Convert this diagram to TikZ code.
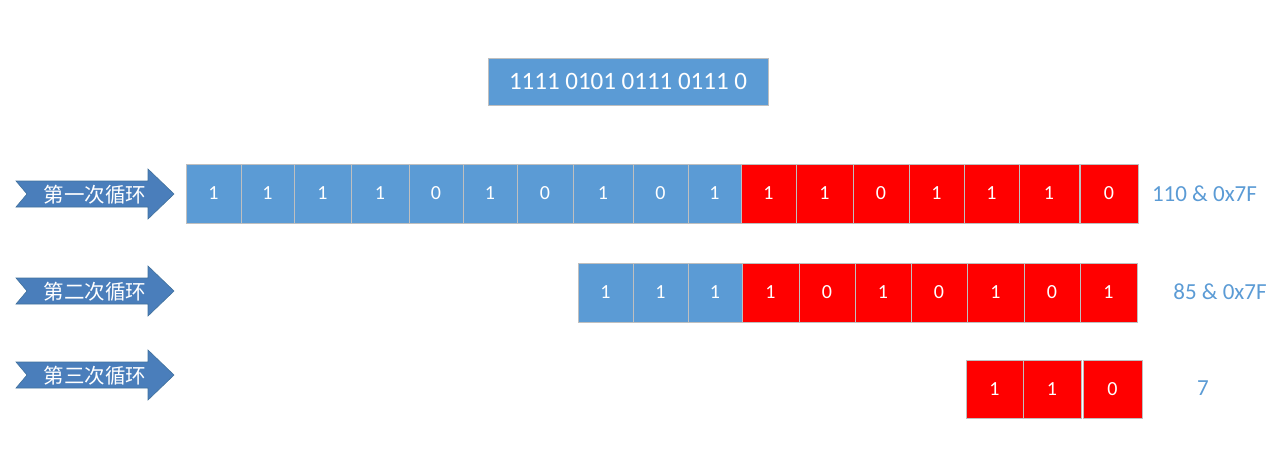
\documentclass[tikz,border=0pt]{standalone}
\usepackage{fontspec}
\setmainfont{Carlito}
\newfontfamily\cjk{Noto Sans CJK SC}
\definecolor{bitblue}{HTML}{5B9BD5}
\definecolor{bitred}{HTML}{FF0000}
\definecolor{cellgray}{HTML}{BFBFBF}
\definecolor{arrowblue}{HTML}{4A7EBB}
\definecolor{arrowedge}{HTML}{41719C}
\tikzset{
  cellbox/.style={draw=cellgray, line width=1pt, inner sep=0pt,
    text=white, font=\fontsize{20}{22}\selectfont},
  topbox/.style={draw=cellgray, line width=1pt, fill=bitblue, minimum width=280, minimum height=47,
    inner sep=0pt, text=white, font=\fontsize{25}{28}\selectfont},
  maskinfo/.style={text=bitblue, font=\fontsize{23}{26}\selectfont},
  looparrow/.style={fill=arrowblue, draw=arrowedge, line width=.6pt, line join=miter},
  looplabel/.style={text=white, font=\cjk\fontsize{20.5}{22}\selectfont}
}
% arrow with notched tail: \looparrow{centre y}{name}{text}
\newcommand\looparrow[3]{%
  \path[looparrow] (16,#1-13) -- (148,#1-13) -- (148,#1-25) -- (174,#1) -- (148,#1+25)
    -- (148,#1+13) -- (16,#1+13) -- (27,#1) -- cycle;
  \node[looplabel] (#2) at (95,#1+1) {#3};}
\begin{document}
\begin{tikzpicture}[x=1pt,y=-1pt]
\useasboundingbox (0,0) rectangle (1285,464);

\node[topbox] (bits) at (628,81.5) {1111 0101 0111 0111 0};

% arrows
\looparrow{194}{loopA}{第一次循环}
\looparrow{291}{loopB}{第二次循环}
\looparrow{375}{loopC}{第三次循环}

% first pass: bit/left/right
\foreach \b/\l/\r [count=\i] in {1/186/241,1/241/294,1/294/351,1/351/409,0/409/463,
    1/463/517,0/517/573,1/573/633,0/633/688,1/688/741,1/741/796,1/796/853,
    0/853/909,1/909/964,1/964/1019,1/1019/1079,0/1080/1138} {
  \ifnum\i<11 \def\c{bitblue}\else\def\c{bitred}\fi
  \node[cellbox, fill=\c, minimum width=\r-\l, minimum height=59] (a\i) at ({(\l+\r)/2},193.5) {\b};
}
% second pass
\foreach \b/\l/\r [count=\i] in {1/578/633,1/633/688,1/688/742,1/742/799,0/799/855,
    1/855/911,0/911/967,1/967/1024,0/1024/1080,1/1080/1137} {
  \ifnum\i<4 \def\c{bitblue}\else\def\c{bitred}\fi
  \node[cellbox, fill=\c, minimum width=\r-\l, minimum height=59] (b\i) at ({(\l+\r)/2},292.5) {\b};
}
% third pass
\foreach \b/\l/\r [count=\i] in {1/966/1023,1/1023/1081,0/1083/1142}
  \node[cellbox, fill=bitred, minimum width=\r-\l, minimum height=58] (c\i) at ({(\l+\r)/2},389) {\b};

\node[maskinfo] (maskA) at (1204.5,194) {110 \& 0x7F};
\node[maskinfo] (maskB) at (1220,292) {85 \& 0x7F};
\node[maskinfo] (maskC) at (1203,388) {7};
\end{tikzpicture}
\end{document}
